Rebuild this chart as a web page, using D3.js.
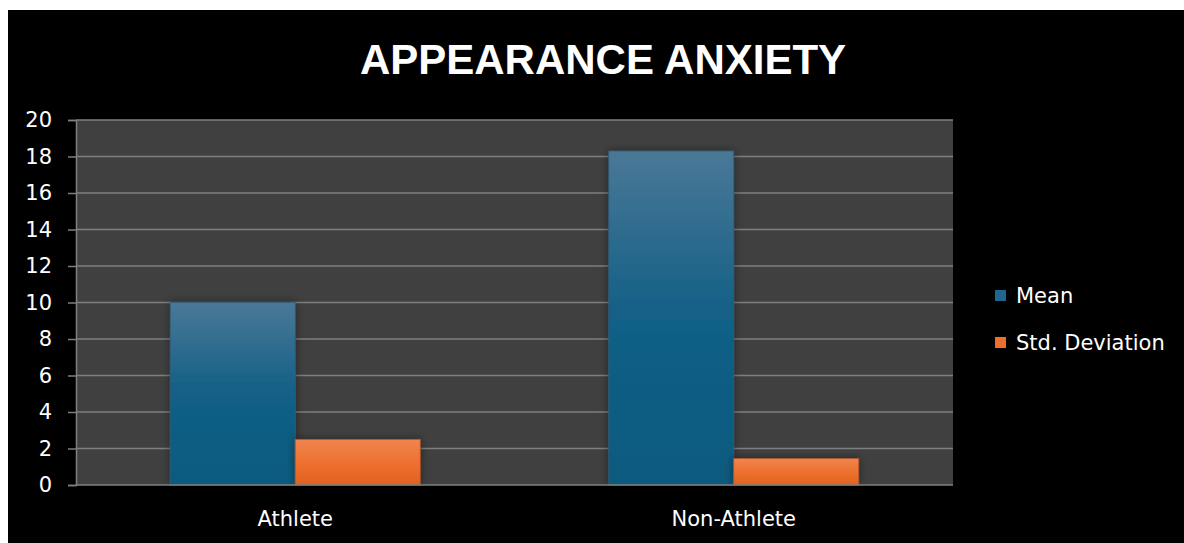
<!DOCTYPE html>
<html>
  <head>
    <script src="https://d3js.org/d3.v7.min.js"></script>
    <style>
      body { margin:0; background:#fff; }
      text { font-family:"DejaVu Sans", "Noto Sans", sans-serif; }
    </style>
  </head>
  <body>
    <script>
      // data
      let categories = ["Athlete", "Non-Athlete"];
      let seriesNames = ["Mean", "Std. Deviation"];
      let meanValues = [10.0, 18.3];
      let stdValues = [2.5, 1.45];
      let yTicks = [0, 2, 4, 6, 8, 10, 12, 14, 16, 18, 20];

      let width = 1184, height = 543;
      let plotLeft = 76, plotRight = 953, plotTop = 120, plotBottom = 485;

      let svg = d3.select("body").append("svg")
          .attr("width", width).attr("height", height);

      let defs = svg.append("defs");
      let g1 = defs.append("linearGradient").attr("id", "gMean")
          .attr("x1", 0).attr("y1", 0).attr("x2", 0).attr("y2", 1);
      g1.append("stop").attr("offset", "0%").attr("stop-color", "#4a7897");
      g1.append("stop").attr("offset", "50%").attr("stop-color", "#125f86");
      g1.append("stop").attr("offset", "100%").attr("stop-color", "#0b5a7f");
      let g2 = defs.append("linearGradient").attr("id", "gStd")
          .attr("x1", 0).attr("y1", 0).attr("x2", 0).attr("y2", 1);
      g2.append("stop").attr("offset", "0%").attr("stop-color", "#ef8550");
      g2.append("stop").attr("offset", "50%").attr("stop-color", "#ee7130");
      g2.append("stop").attr("offset", "100%").attr("stop-color", "#e0621e");
      let shadow = defs.append("filter").attr("id", "shadow")
          .attr("x", "-20%").attr("y", "-20%").attr("width", "140%").attr("height", "140%");
      shadow.append("feDropShadow").attr("dx", 0).attr("dy", 0)
          .attr("stdDeviation", 4).attr("flood-color", "#000").attr("flood-opacity", 0.45);

      // black background
      svg.append("rect").attr("x", 8).attr("y", 10)
          .attr("width", width - 8).attr("height", height - 10)
          .attr("fill", "#000");

      // plot area
      svg.append("rect").attr("x", plotLeft).attr("y", plotTop)
          .attr("width", plotRight - plotLeft).attr("height", plotBottom - plotTop)
          .attr("fill", "#404040");

      let y = d3.scaleLinear().domain([0, 20]).range([plotBottom, plotTop]);
      let x0 = d3.scaleBand().domain(categories).range([plotLeft, plotRight])
          .paddingInner(0.43).paddingOuter(0.215);
      let x1 = d3.scaleBand().domain(seriesNames).range([0, x0.bandwidth()]);

      // y axis
      let yAxis = d3.axisLeft(y).tickValues(yTicks).tickSize(8).tickPadding(16);
      let ya = svg.append("g").attr("transform", "translate(" + plotLeft + ",0)").call(yAxis);
      ya.select(".domain").attr("stroke", "#7f7f7f").attr("stroke-width", 1.5);
      ya.selectAll(".tick line").attr("stroke", "#7f7f7f").attr("stroke-width", 1.5);
      ya.selectAll(".tick text").attr("fill", "#fff").style("font-size", "21px")
          .style("font-family", "'DejaVu Sans', sans-serif");

      // gridlines
      svg.append("g").selectAll("line").data(yTicks.filter(d => d > 0)).join("line")
          .attr("x1", plotLeft).attr("x2", plotRight)
          .attr("y1", d => y(d)).attr("y2", d => y(d))
          .attr("stroke", "#7f7f7f").attr("stroke-width", 1.5);

      // bars
      let rows = categories.map((c, i) => ({cat: c, vals: [meanValues[i], stdValues[i]]}));
      let fills = ["url(#gMean)", "url(#gStd)"];
      let edges = ["#2f5f7d", "#b5582a"];
      svg.append("g").selectAll("g").data(rows).join("g")
          .attr("transform", d => "translate(" + x0(d.cat) + ",0)")
          .selectAll("rect").data(d => d.vals.map((v, j) => ({s: seriesNames[j], v: v, j: j})))
          .join("rect")
          .attr("x", d => x1(d.s)).attr("y", d => y(d.v))
          .attr("width", x1.bandwidth()).attr("height", d => y(0) - y(d.v))
          .attr("fill", d => fills[d.j])
          .attr("stroke", d => edges[d.j]).attr("stroke-width", 0.8)
          .attr("filter", "url(#shadow)");

      // x axis line
      svg.append("line").attr("x1", plotLeft).attr("x2", plotRight)
          .attr("y1", plotBottom).attr("y2", plotBottom)
          .attr("stroke", "#7f7f7f").attr("stroke-width", 1.5);

      // x labels
      svg.append("g").selectAll("text").data(categories).join("text")
          .attr("x", d => x0(d) + x0.bandwidth() / 2).attr("y", 525.5)
          .attr("text-anchor", "middle").attr("fill", "#fff")
          .style("font-size", "21px").text(d => d);

      // title
      svg.append("text").attr("x", 603).attr("y", 73.5)
          .attr("text-anchor", "middle").attr("fill", "#fff")
          .style("font-family", "'Liberation Sans', Arial, sans-serif")
          .style("font-weight", "bold").style("font-size", "42px")
          .text("APPEARANCE ANXIETY");

      // legend
      let colors = ["#1f6690", "#ee6f2b"];
      let leg = svg.append("g").selectAll("g").data(seriesNames).join("g")
          .attr("transform", (d, i) => "translate(995," + (295 + i * 47) + ")");
      leg.append("rect").attr("x", 0).attr("y", -5).attr("width", 11).attr("height", 11)
          .attr("fill", (d, i) => colors[i]);
      leg.append("text").attr("x", 21).attr("y", 8).attr("fill", "#fff")
          .style("font-size", "21px").text(d => d);
    </script>
  </body>
</html>
